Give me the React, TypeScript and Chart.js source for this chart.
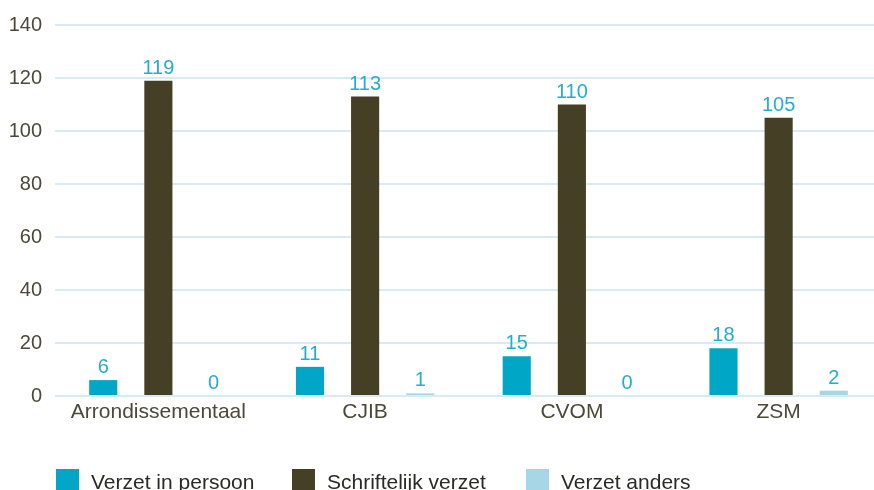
import React, { useEffect, useRef } from "react";
import { Chart, registerables } from "chart.js";

Chart.register(...registerables);

const categories = ["Arrondissementaal", "CJIB", "CVOM", "ZSM"];
const seriesNames = ["Verzet in persoon", "Schriftelijk verzet", "Verzet anders"];
const inPersoon = [6, 11, 15, 18];
const schriftelijk = [119, 113, 110, 105];
const anders = [0, 1, 0, 2];
const yTicks = [0, 20, 40, 60, 80, 100, 120, 140];

const colors = ["#00a6c5", "#453f25", "#a7d6e6"];
const FONT = "'Liberation Sans', Arial, sans-serif";

const valueLabels = {
  id: "valueLabels",
  afterDatasetsDraw(chart: any) {
    const ctx = chart.ctx;
    ctx.save();
    ctx.font = `20px ${FONT}`;
    ctx.fillStyle = "#26adcb";
    ctx.textAlign = "center";
    ctx.textBaseline = "alphabetic";
    chart.data.datasets.forEach((ds: any, i: number) => {
      const meta = chart.getDatasetMeta(i);
      meta.data.forEach((el: any, j: number) => {
        ctx.fillText(String(ds.data[j]), el.x, el.y - 7);
      });
    });
    ctx.restore();
  },
};

const legendXs = [56, 292, 526];
const customLegend = {
  id: "customLegend",
  afterDraw(chart: any) {
    const ctx = chart.ctx;
    ctx.save();
    ctx.font = `21px ${FONT}`;
    ctx.textBaseline = "alphabetic";
    ctx.textAlign = "left";
    chart.data.datasets.forEach((ds: any, i: number) => {
      const x = legendXs[i];
      ctx.fillStyle = ds.backgroundColor;
      ctx.fillRect(x, 469, 23, 23);
      ctx.fillStyle = "#2a2a26";
      ctx.fillText(ds.label, x + 35, 489);
    });
    ctx.restore();
  },
};

export default function App() {
  const ref = useRef<HTMLCanvasElement>(null);
  useEffect(() => {
    document.body.style.margin = "0";
    document.body.style.overflow = "hidden";
    const chart = new Chart(ref.current!, {
      type: "bar",
      data: {
        labels: categories,
        datasets: [
          { label: seriesNames[0], data: inPersoon, backgroundColor: colors[0] },
          { label: seriesNames[1], data: schriftelijk, backgroundColor: colors[1] },
          { label: seriesNames[2], data: anders, backgroundColor: colors[2] },
        ],
      },
      options: {
        responsive: false,
        animation: false,
        devicePixelRatio: 1,
        layout: { padding: { top: 23, right: 2, bottom: 74, left: 0 } },
        datasets: { bar: { categoryPercentage: 0.8, barPercentage: 0.51 } },
        plugins: { legend: { display: false }, tooltip: { enabled: false } },
        scales: {
          x: {
            grid: { display: false },
            border: { display: false },
            ticks: { color: "#4b4939", font: { family: FONT, size: 21 }, padding: -4 },
            afterFit: (s: any) => { s.height = 30; },
          },
          y: {
            min: 0,
            max: 140,
            afterBuildTicks: (s: any) => { s.ticks = yTicks.map((v) => ({ value: v })); },
            grid: { color: "#d9eaf3", lineWidth: 2, drawTicks: false },
            border: { display: false },
            ticks: { color: "#4b4939", font: { family: FONT, size: 20 }, padding: 13 },
            afterFit: (s: any) => { s.width = 55; },
          },
        },
      },
      plugins: [valueLabels, customLegend],
    });
    return () => chart.destroy();
  }, []);
  return (
    <div style={{ position: "absolute", left: 0, top: 0, width: 874, height: 490, overflow: "hidden" }}>
      <canvas ref={ref} width={884} height={500} style={{ display: "block" }} />
    </div>
  );
}
